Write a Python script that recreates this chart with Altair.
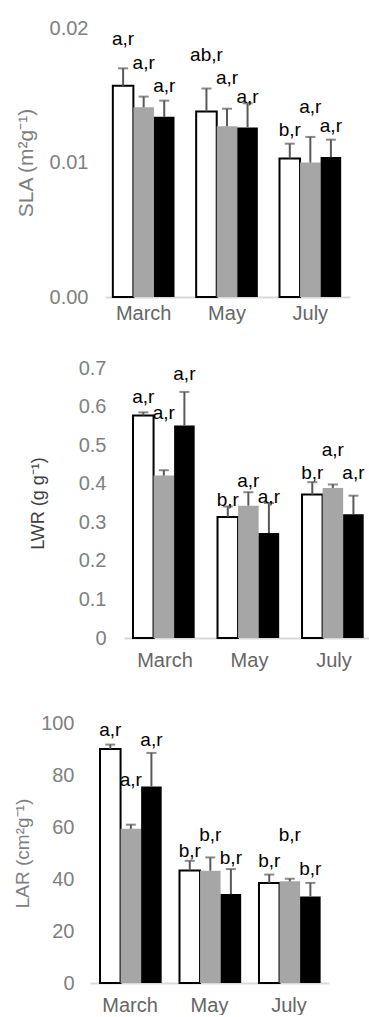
import altair as alt
import pandas as pd

months = ["March", "May", "July"]
treatments = ["T1", "T2", "T3"]

# SLA (m2 g-1)
sla_mean = [0.0157, 0.0141, 0.0134, 0.0138, 0.0127, 0.0126, 0.0103, 0.0100, 0.0104]
sla_se = [0.0013, 0.0008, 0.0012, 0.0017, 0.0013, 0.0018, 0.0011, 0.0019, 0.0013]
sla_lab = ["a,r", "a,r", "a,r", "ab,r", "a,r", "a,r", "b,r", "a,r", "a,r"]
sla_lab_y = [0.0192, 0.0174, 0.0157, 0.0180, 0.0163, 0.0149, 0.0124, 0.0141, 0.0127]
sla_ticks = [0, 0.01, 0.02]

# LWR (g g-1)
lwr_mean = [0.577, 0.421, 0.551, 0.314, 0.343, 0.272, 0.372, 0.389, 0.321]
lwr_se = [0.008, 0.014, 0.087, 0.027, 0.035, 0.078, 0.032, 0.009, 0.048]
lwr_lab = ["a,r", "a,r", "a,r", "b,r", "a,r", "a,r", "b,r", "a,r", "a,r"]
lwr_lab_y = [0.626, 0.583, 0.684, 0.359, 0.408, 0.365, 0.428, 0.488, 0.428]
lwr_ticks = [0, 0.1, 0.2, 0.3, 0.4, 0.5, 0.6, 0.7]

# LAR (cm2 g-1)
lar_mean = [90.0, 59.3, 75.6, 43.3, 43.2, 34.2, 38.5, 39.1, 33.3]
lar_se = [1.7, 1.6, 12.9, 3.7, 5.1, 9.6, 3.2, 1.0, 5.2]
lar_lab = ["a,r", "a,r", "a,r", "b,r", "b,r", "b,r", "b,r", "b,r", "b,r"]
lar_lab_y = [97.4, 78.2, 93.6, 50.6, 57.0, 48.1, 46.8, 57.0, 43.8]
lar_ticks = [0, 20, 40, 60, 80, 100]

FONT = "Liberation Sans"
fill_colors = ["#ffffff", "#a6a6a6", "#000000"]


def build_df(mean, se, lab, lab_y):
    rows = []
    i = 0
    for m in months:
        for t in treatments:
            rows.append({"month": m, "trt": t, "mean": mean[i],
                         "top": mean[i] + se[i], "lab": lab[i], "laby": lab_y[i]})
            i += 1
    return pd.DataFrame(rows)


def panel(mean, se, lab, lab_y, ticks, fmt, title, width, height,
          pin, pout, align, lab_pad, title_pad, title_color, title_size, xlab_pad):
    df = build_df(mean, se, lab, lab_y)
    xaxis = alt.Axis(title=None, labelAngle=0, domainColor="#d9d9d9",
                     domainWidth=2, ticks=False, labelFontSize=20,
                     labelColor="#666666", labelFont=FONT,
                     labelPadding=xlab_pad)
    xscale = alt.Scale(paddingInner=pin, paddingOuter=pout, align=align)
    xs = alt.X("month:N", sort=months, scale=xscale, axis=xaxis)
    xo = alt.XOffset("trt:N", sort=treatments,
                     scale=alt.Scale(paddingInner=0, paddingOuter=0))
    ys = alt.Scale(domain=[ticks[0], ticks[-1]], nice=False)
    yaxis = alt.Axis(title=title, values=ticks, format=fmt, grid=False,
                     domain=False, ticks=False, labelFontSize=20,
                     labelColor="#7f7f7f", labelFont=FONT,
                     labelOverlap=False,
                     labelPadding=lab_pad, titleFont=FONT,
                     titleFontSize=title_size, titleFontWeight="normal",
                     titleColor=title_color, titlePadding=title_pad)
    base = alt.Chart(df)
    bars = base.mark_bar(stroke="#000000").encode(
        x=xs, xOffset=xo,
        y=alt.Y("mean:Q", scale=ys, axis=yaxis, title=title),
        fill=alt.Fill("trt:N", scale=alt.Scale(domain=treatments, range=fill_colors),
                      legend=None),
        strokeWidth=alt.condition(alt.datum.trt == "T1", alt.value(2), alt.value(0)),
    )
    err = base.mark_rule(color="#595959", strokeWidth=2).encode(
        x=xs, xOffset=xo,
        y=alt.Y("mean:Q", scale=ys, axis=yaxis, title=title), y2="top:Q")
    cap = base.mark_tick(color="#595959", thickness=2, size=10,
                         orient="horizontal").encode(
        x=xs, xOffset=xo,
        y=alt.Y("top:Q", scale=ys, axis=yaxis, title=title))
    txt = base.mark_text(font=FONT, fontSize=19, color="#000000",
                         baseline="middle").encode(
        x=xs, xOffset=xo,
        y=alt.Y("laby:Q", scale=ys, axis=yaxis, title=title), text="lab:N")
    return alt.layer(bars, err, cap, txt).properties(width=width, height=height)


def spacer(w):
    return alt.Chart(pd.DataFrame({"s": [0]})).mark_point(
        opacity=0, size=1).properties(width=w, height=1)


p1 = panel(sla_mean, sla_se, sla_lab, sla_lab_y, sla_ticks, ".2f", "SLA (m²g⁻¹)",
           245, 269, 0.26, 0.1, 0.47, 17, 13, "#7f7f7f", 21, 6)
p2 = panel(lwr_mean, lwr_se, lwr_lab, lwr_lab_y, lwr_ticks, ".1~f", "LWR (g g⁻¹)",
           245, 270, 0.243, 0.071, 0.75, 18, 31, "#404040", 18, 12)
p3 = panel(lar_mean, lar_se, lar_lab, lar_lab_y, lar_ticks, "d", "LAR (cm²g⁻¹)",
           239, 260, 0.245, 0.126, 0.5, 16, 8, "#7f7f7f", 19, 12)

r1 = alt.hconcat(spacer(15), p1, spacing=0)
r2 = alt.hconcat(spacer(29), p2, spacing=0)
r3 = alt.hconcat(spacer(13), p3, spacing=0)

top = alt.vconcat(r1, r2, spacing=35)
chart = alt.vconcat(top, r3, spacing=43).properties(
    padding={"left": 0, "top": 18, "right": 0, "bottom": 0}
).configure_view(stroke=None)

chart.save("out.html", embed_options={"renderer": "svg", "actions": False})
